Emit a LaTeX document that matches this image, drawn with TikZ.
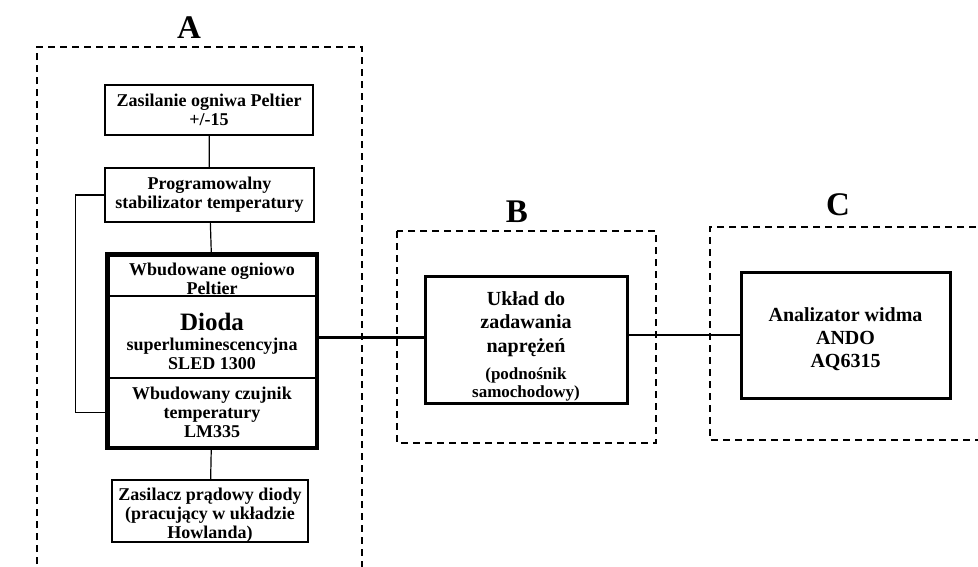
\documentclass[tikz,border=0pt]{standalone}
\usepackage{fontspec}
\setmainfont{Liberation Serif}
\usetikzlibrary{positioning,calc}

\tikzset{
  blok/.style={draw, line width=1.3pt, align=center, inner sep=1pt,
    font=\bfseries\fontsize{18}{18.7}\selectfont},
  gruby/.style={blok, line width=3pt, font=\bfseries\fontsize{20}{23.2}\selectfont},
  sekcja/.style={blok, line width=1.5pt, minimum width=208pt},
  obszar/.style={draw, line width=1.2pt, dash pattern=on 7pt off 5pt},
  litera/.style={font=\bfseries\fontsize{33}{36}\selectfont},
  polacz/.style={line width=1.2pt},
  polaczgr/.style={line width=3pt}
}

\begin{document}
\begin{tikzpicture}[x=1pt,y=-1pt]
  \useasboundingbox (0,0) rectangle (978,566);
  \fill[white] (0,0) rectangle (978,566);
  % obszary A, B, C
  \draw[obszar] (37,600) -- (37,47) -- (362,47) -- (362,600);
  \draw[obszar] (397,231) rectangle (656,443);
  \draw[obszar] (1000,227) -- (710,227) -- (710,440) -- (1000,440);
  \node[litera] (lA) at (189,28) {A};
  \node[litera] (lB) at (517,212) {B};
  \node[litera] (lC) at (838,205) {C};
  % blok A
  \node[blok, minimum width=208pt, minimum height=50pt] (zasilanie) at (209,110)
    {Zasilanie ogniwa Peltier\\+/-15};
  \node[blok, minimum width=209pt, minimum height=54pt] (stabilizator) at (209.5,195)
    {Programowalny\\stabilizator temperatury};
  \node[sekcja, minimum height=41pt, text height=38pt, text depth=1pt] (peltier) at (212,275.5)
    {Wbudowane ogniowo\\Peltier};
  \node[sekcja, minimum height=82pt, text height=70pt, text depth=6pt] (dioda) at (212,337)
    {{\fontsize{25}{25}\selectfont Dioda}\\[1.3pt]superluminescencyjna\\[0.3pt]SLED 1300};
  \node[sekcja, minimum height=69pt] (czujnik) at (212,412.5)
    {Wbudowany czujnik\\temperatury\\LM335};
  \draw[line width=4.5pt] (peltier.north west) rectangle (czujnik.south east);
  \node[blok, minimum width=196pt, minimum height=62pt, text height=55pt, text depth=1pt] (zasilacz) at (210,511)
    {Zasilacz prądowy diody\\(pracujący w układzie\\Howlanda)};
  % blok B
  \node[gruby, minimum width=202pt, minimum height=127pt, text height=117pt, text depth=2pt,
    font=\bfseries\fontsize{20}{23.5}\selectfont] (uklad) at (526,339.5)
    {Układ do\\zadawania\\naprężeń\\[3.5pt]{\fontsize{17}{18}\selectfont (podnośnik}\\[-5.5pt]{\fontsize{17}{18}\selectfont samochodowy)}};
  % blok C
  \node[gruby, minimum width=209pt, minimum height=126pt, text height=69pt, text depth=4pt] (analizator) at (845.5,335)
    {Analizator widma\\ANDO\\AQ6315};
  % polaczenia
  \draw[polacz] (zasilanie) -- (stabilizator);
  \draw[polacz] (stabilizator) -- (peltier);
  \draw[polacz] (czujnik) -- (zasilacz);
  \draw[polacz] (stabilizator.west) -- ++(-29,0) |- (czujnik.west);
  \draw[polaczgr] (dioda.east) -- (dioda.east -| uklad.west);
  \draw[line width=2.4pt] (uklad.east |- analizator.west) -- (analizator.west);
\end{tikzpicture}
\end{document}
